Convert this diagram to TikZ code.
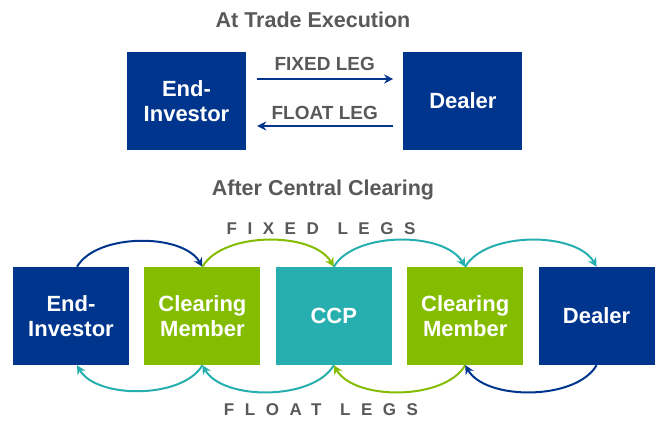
\documentclass[tikz,border=0pt]{standalone}
\usepackage{fontspec}
\setmainfont{Liberation Sans}
\usetikzlibrary{positioning,arrows.meta}

\definecolor{bleu}{HTML}{00358E}
\definecolor{vert}{HTML}{84BC00}
\definecolor{canard}{HTML}{27AEAE}
\definecolor{gris}{HTML}{595959}

\tikzset{
  boite/.style={rectangle, fill=#1, text=white, minimum width=116pt, minimum height=98pt,
    inner sep=0pt, align=center, font=\bfseries\fontsize{22}{25.5}\selectfont},
  titre/.style={text=gris, font=\bfseries\fontsize{21.5}{24}\selectfont},
  jambe/.style={text=gris, font=\bfseries\fontsize{19}{22}\selectfont},
  espace/.style={text=gris, font=\bfseries\fontsize{17}{20}\selectfont\addfontfeatures{LetterSpace=62}},
  fleche/.style={draw=#1, line width=2pt, -{Stealth[length=9pt,width=9pt]}},
}

\begin{document}
\begin{tikzpicture}[x=1pt, y=-1pt, node distance=15pt]
        \useasboundingbox (0,0) rectangle (655,420);

        % A l'exécution
        \node (titre1) [titre] at (313,20) {At Trade Execution};
        \node (ei1) [boite=bleu, minimum width=119pt, minimum height=97pt] at (186.5,101) {End-\\Investor};
        \node (dealer1) [boite=bleu, minimum width=119pt, minimum height=97pt, right=157pt of ei1] {Dealer};

        \draw[fleche=bleu, line width=1.5pt, shorten <=11pt, shorten >=10pt]
            ([yshift=22pt]ei1.east) -- ([yshift=22pt]dealer1.west)
            node[jambe, midway, above=4pt] {FIXED LEG};
        \draw[fleche=bleu, line width=1.5pt, shorten <=10pt, shorten >=11pt]
            ([yshift=-25pt]dealer1.west) -- ([yshift=-25pt]ei1.east)
            node[jambe, midway, above=2pt] {FLOAT LEG};

        % Après la compensation
        \node (titre2) [titre] at (323,190) {After Central Clearing};
        \node (ei2) [boite=bleu] at (71,316) {End-\\Investor};
        \node (cm1) [boite=vert, right=of ei2] {Clearing\\Member};
        \node (ccp) [boite=canard, right=of cm1] {CCP};
        \node (cm2) [boite=vert, right=of ccp] {Clearing\\Member};
        \node (dealer2) [boite=bleu, right=of cm2] {Dealer};

        \node (fixes) [espace] at (321,229) {FIXED\hspace{1.1em}LEGS};
        \node (variables) [espace] at (321,410) {FLOAT\hspace{1.1em}LEGS};

        % Les jambes fixes
        \draw[fleche=bleu] ([xshift=6pt]ei2.north) to[out=60, in=120, looseness=0.8] (cm1.north);
        \draw[fleche=vert] (cm1.north) to[out=60, in=120, looseness=0.8] (ccp.north);
        \draw[fleche=canard] (ccp.north) to[out=60, in=120, looseness=0.8] (cm2.north);
        \draw[fleche=canard] (cm2.north) to[out=60, in=120, looseness=0.8] (dealer2.north);

        % Les jambes variables
        \draw[fleche=canard] (cm1.south) to[out=-120, in=-60, looseness=0.8] ([xshift=6pt]ei2.south);
        \draw[fleche=canard] (ccp.south) to[out=-120, in=-60, looseness=0.8] (cm1.south);
        \draw[fleche=vert] (cm2.south) to[out=-120, in=-60, looseness=0.8] (ccp.south);
        \draw[fleche=bleu] (dealer2.south) to[out=-120, in=-60, looseness=0.8] (cm2.south);
    \end{tikzpicture}
\end{document}
